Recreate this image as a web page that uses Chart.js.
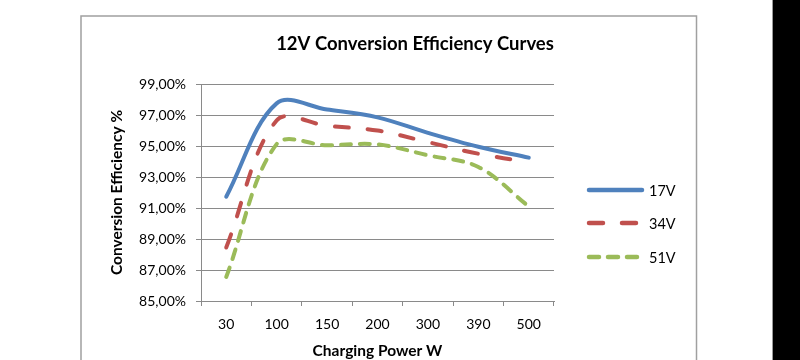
<!DOCTYPE html>
<html><head><meta charset="utf-8">
<script src="https://cdn.jsdelivr.net/npm/chart.js@4.4.0/dist/chart.umd.min.js"></script>
<style>html,body{margin:0;padding:0;background:#fff}#wrap{width:800px;height:360px}</style>
</head><body><div id="wrap"><canvas id="c" width="800" height="360"></canvas></div>
<script>
const categories = ['30', '100', '150', '200', '300', '390', '500'];
const seriesNames = ['17V', '34V', '51V'];
const v17 = [91.73, 97.75, 97.35, 96.85, 95.85, 94.95, 94.25];
const v34 = [88.45, 96.65, 96.30, 96.00, 95.25, 94.50, 93.95];
const v51 = [86.55, 95.12, 95.05, 95.10, 94.40, 93.65, 91.10];
const yTickValues = [85, 87, 89, 91, 93, 95, 97, 99];
const titleText = '12V Conversion Efficiency Curves';
const yTitle = 'Conversion Efficiency %';
const xTitle = 'Charging Power W';

const GRID = '#8a8a8a';
Chart.defaults.font.family = 'Lato';
Chart.defaults.color = '#000';

const framePlugin = {
  id: 'frame',
  beforeDraw(chart) {
    const ctx = chart.ctx;
    ctx.save();
    ctx.fillStyle = '#fff';
    ctx.fillRect(0, 0, chart.width, chart.height);
    ctx.strokeStyle = '#a0a0a0';
    ctx.lineWidth = 1.5;
    ctx.strokeRect(81, 16, 615.5, 400);
    ctx.fillStyle = '#000';
    ctx.fillRect(773, 0, 27, chart.height);
    ctx.strokeStyle = '#9a9a9a';
    ctx.lineWidth = 1;
    ctx.beginPath(); ctx.moveTo(772.5, 0); ctx.lineTo(772.5, chart.height); ctx.stroke();
    ctx.restore();
  }
};

const legendPlugin = {
  id: 'sideLegend',
  afterDraw(chart) {
    const ctx = chart.ctx;
    const rows = [190, 223, 257];
    chart.data.datasets.forEach((ds, i) => {
      const y = rows[i];
      ctx.save();
      ctx.strokeStyle = ds.borderColor;
      ctx.lineWidth = 4.5;
      ctx.lineCap = 'round';
      ctx.setLineDash(ds.borderDash || []);
      ctx.beginPath();
      ctx.moveTo(589, y);
      ctx.lineTo(642, y);
      ctx.stroke();
      ctx.setLineDash([]);
      ctx.fillStyle = '#000';
      ctx.font = '14.5px Lato';
      ctx.textBaseline = 'middle';
      ctx.textAlign = 'left';
      ctx.fillText(ds.label, 649, y + 1);
      ctx.restore();
    });
  }
};

const mk = (label, data, color, dash) => ({
  label, data, borderColor: color, backgroundColor: color,
  borderWidth: 4, borderDash: dash, borderCapStyle: 'round', borderJoinStyle: 'round',
  pointRadius: 0, pointHoverRadius: 0, tension: 0.35, fill: false
});

new Chart(document.getElementById('c'), {
  type: 'line',
  data: {
    labels: categories,
    datasets: [
      mk(seriesNames[0], v17, '#4F81BD', []),
      mk(seriesNames[1], v34, '#C0504D', [14, 19]),
      mk(seriesNames[2], v51, '#9BBB59', [10, 9])
    ]
  },
  options: {
    responsive: false,
    animation: false,
    devicePixelRatio: 1,
    layout: { padding: { left: 100, right: 70, top: 0, bottom: 0 } },
    plugins: {
      legend: { display: false },
      tooltip: { enabled: false },
      title: {
        display: true, text: titleText, color: '#000',
        font: { family: 'Lato', size: 18.5, weight: 'bold' },
        padding: { top: 32.9, bottom: 28.9 }
      }
    },
    scales: {
      x: {
        type: 'category', offset: true,
        grid: { display: true, drawOnChartArea: false, drawTicks: true, tickLength: 5, offset: true, color: GRID },
        border: { display: true, color: GRID, width: 1 },
        ticks: { padding: 10, font: { size: 14 }, color: '#000', maxRotation: 0 },
        title: { display: true, text: xTitle, font: { size: 15.5, weight: 'bold' }, padding: { top: 0, bottom: 0 }, color: '#000' },
        afterFit(s) { s.height = 59; }
      },
      y: {
        type: 'linear', position: 'left', min: 85, max: 99,
        afterBuildTicks(s) { s.ticks = yTickValues.map(v => ({ value: v })); },
        grid: { color: GRID, tickLength: 5, drawTicks: true },
        border: { display: true, color: GRID, width: 1 },
        ticks: { padding: 10, font: { size: 14 }, color: '#000',
          callback: v => v.toFixed(2).replace('.', ',') + '%' },
        title: { display: true, text: yTitle, font: { size: 15.5, weight: 'bold' }, padding: { top: 8, bottom: 0 }, color: '#000' },
        afterFit(s) { s.width = 101; }
      },
      y2: {
        type: 'linear', position: 'right', display: true,
        grid: { display: false, drawTicks: false },
        border: { display: false },
        ticks: { display: false },
        afterFit(s) { s.width = 176; }
      }
    }
  },
  plugins: [framePlugin, legendPlugin]
});
</script>
</body></html>
